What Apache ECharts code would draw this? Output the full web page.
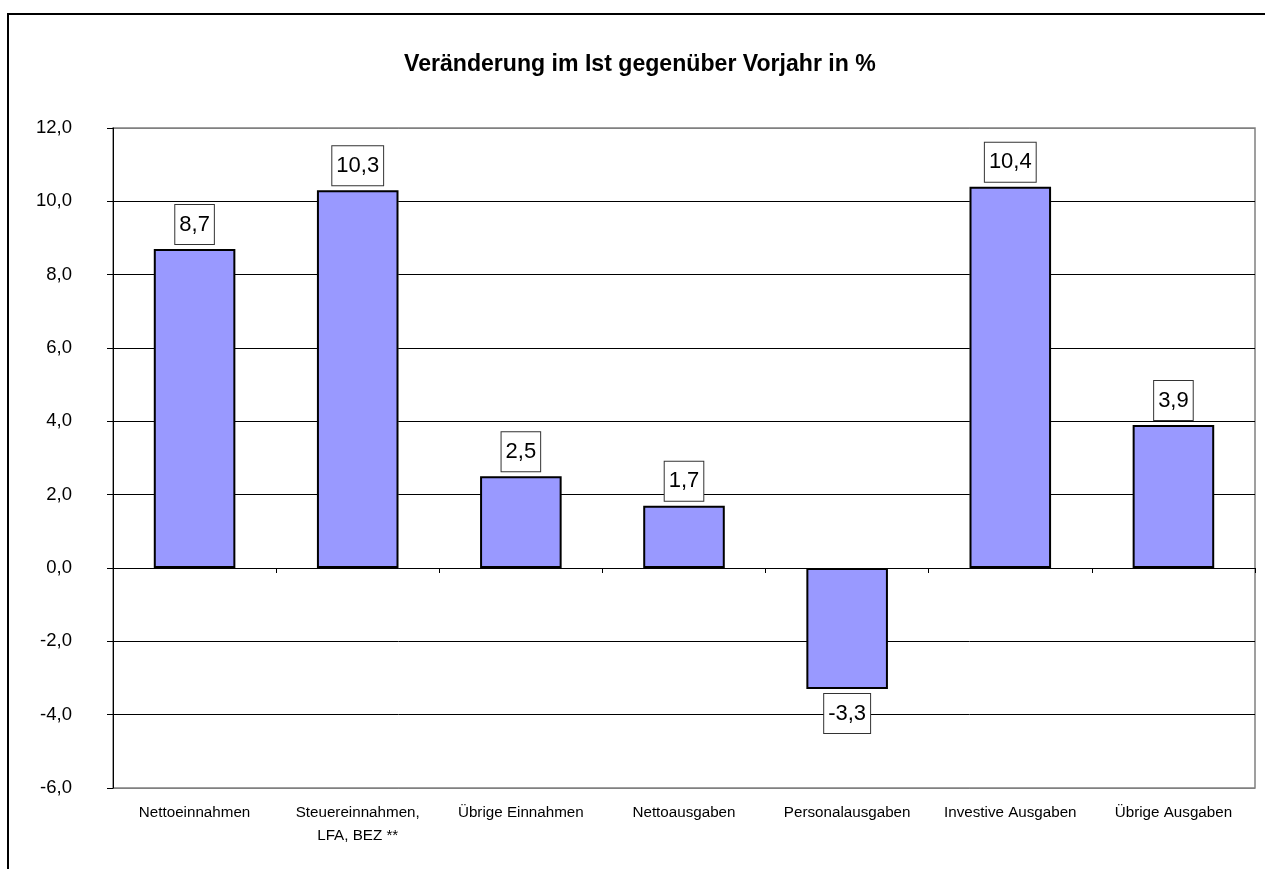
<!DOCTYPE html>
<html>
<head>
<meta charset="utf-8">
<script src="https://cdn.jsdelivr.net/npm/echarts@6/dist/echarts.min.js"></script>
<style>
  html, body { margin: 0; padding: 0; background: #fff; }
  #chart { width: 1265px; height: 869px; }
</style>
</head>
<body>
<div id="chart"></div>
<script>
// Daten
const titleText = "Veränderung im Ist gegenüber Vorjahr in %";
const categories = [
  "Nettoeinnahmen",
  "Steuereinnahmen,\nLFA, BEZ **",
  "Übrige Einnahmen",
  "Nettoausgaben",
  "Personalausgaben",
  "Investive Ausgaben",
  "Übrige Ausgaben"
];
const values = [8.7, 10.3, 2.5, 1.7, -3.3, 10.4, 3.9];
const yMin = -6;
const yMax = 12;
const yStep = 2;

const fmt = (v) => v.toFixed(1).replace(".", ",");

const chart = echarts.init(document.getElementById("chart"));

// Gitterlinien: Rand oben/unten grau, sonst schwarz
const splitColors = [];
for (let v = yMin; v <= yMax; v += yStep) {
  splitColors.push(v === yMin || v === yMax ? "#808080" : "#000");
}

const option = {
  animation: false,
  backgroundColor: "#fff",
  graphic: [
    {
      type: "rect",
      shape: { x: 8, y: 14, width: 1275, height: 880 },
      style: { fill: "none", stroke: "#000", lineWidth: 2 },
      silent: true
    }
  ],
  title: {
    text: titleText,
    left: 399,
    top: 48,
    textStyle: {
      fontFamily: "Liberation Sans, Arial, sans-serif",
      fontWeight: "bold",
      fontSize: 23.1,
      color: "#000"
    }
  },
  grid: {
    left: 113,
    right: 10,
    top: 128,
    bottom: 81,
    show: true,
    borderColor: "#808080",
    borderWidth: 1.5
  },
  xAxis: [
    {
      type: "category",
      data: categories,
      axisLine: { onZero: true, lineStyle: { color: "#000", width: 1 } },
      axisTick: { show: true, length: 5, lineStyle: { color: "#000" } },
      axisLabel: { show: false },
      splitLine: { show: false }
    },
    {
      type: "category",
      data: categories,
      position: "bottom",
      axisLine: { show: false, onZero: false },
      axisTick: { show: false },
      axisLabel: {
        margin: 13,
        fontFamily: "Liberation Sans, Arial, sans-serif",
        fontSize: 15.2,
        lineHeight: 23,
        color: "#000",
        interval: 0
      }
    }
  ],
  yAxis: {
    type: "value",
    min: yMin,
    max: yMax,
    interval: yStep,
    axisLine: { show: true, lineStyle: { color: "#000", width: 1 } },
    axisTick: { show: true, length: 6, lineStyle: { color: "#000" } },
    axisLabel: {
      margin: 41,
      fontFamily: "Liberation Sans, Arial, sans-serif",
      fontSize: 18.5,
      color: "#000",
      formatter: (v) => fmt(v)
    },
    splitLine: { show: true, lineStyle: { color: splitColors, width: 1 } }
  },
  series: [
    {
      type: "bar",
      xAxisIndex: 0,
      barCategoryGap: "50%",
      data: values.map((v) => ({
        value: v,
        label: { position: v < 0 ? "bottom" : "top" }
      })),
      itemStyle: {
        color: "#9999FF",
        borderColor: "#000",
        borderWidth: 2
      },
      label: {
        show: true,
        distance: 5,
        formatter: (p) => fmt(p.value),
        fontFamily: "Liberation Sans, Arial, sans-serif",
        fontSize: 22,
        lineHeight: 25,
        color: "#000",
        backgroundColor: "#fff",
        borderColor: "#333",
        borderWidth: 1,
        padding: [7, 4, 7, 4]
      }
    }
  ]
};

chart.setOption(option);
</script>
</body>
</html>
